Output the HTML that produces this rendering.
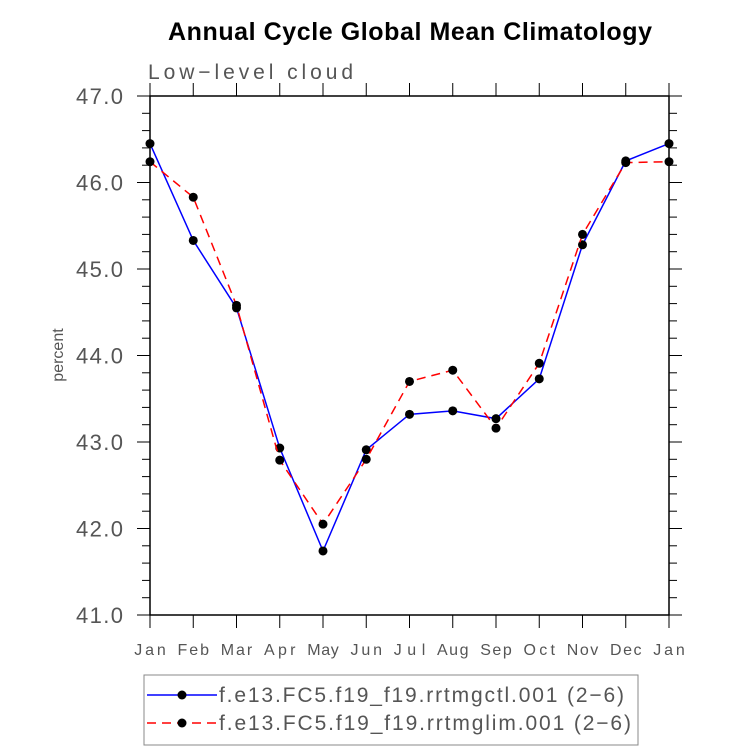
<!DOCTYPE html>
<html><head><meta charset="utf-8"><style>
body{margin:0;background:#fff;}
svg text{font-family:"Liberation Sans",sans-serif;}
</style></head><body>
<svg id="chart" width="733" height="751" xmlns="http://www.w3.org/2000/svg">
<text x="410" y="40" text-anchor="middle" font-size="25" font-weight="bold" textLength="484">Annual Cycle Global Mean Climatology</text>
<text x="148" y="79" font-size="21" fill="#555" textLength="205">Low−level cloud</text>
<text transform="translate(63,355) rotate(-90)" text-anchor="middle" font-size="16" fill="#555">percent</text>
<g id="axes"></g>
<g id="series"></g>
<g>
<rect x="144" y="675" width="494" height="70" fill="none" stroke="#888" stroke-width="1"/>
<line x1="147" y1="695" x2="217" y2="695" stroke="#00f" stroke-width="1.5"/>
<circle cx="182" cy="695" r="4.5" fill="#000"/>
<text x="219" y="702" font-size="21" fill="#555" textLength="405">f.e13.FC5.f19_f19.rrtmgctl.001 (2−6)</text>
<line x1="147" y1="723" x2="217" y2="723" stroke="#f00" stroke-width="1.5" stroke-dasharray="9,6"/>
<circle cx="182" cy="723" r="4.5" fill="#000"/>
<text x="219" y="730" font-size="21" fill="#555" textLength="412">f.e13.FC5.f19_f19.rrtmglim.001 (2−6)</text>
</g>
</svg>
<script>
const months=["Jan","Feb","Mar","Apr","May","Jun","Jul","Aug","Sep","Oct","Nov","Dec","Jan"];
const ctlValues=[46.45,45.33,44.55,42.93,41.74,42.91,43.32,43.36,43.27,43.73,45.28,46.25,46.45];
const limValues=[46.24,45.83,44.58,42.79,42.05,42.80,43.70,43.83,43.16,43.91,45.40,46.23,46.24];
const yTicks=[41,42,43,44,45,46,47];
const NS="http://www.w3.org/2000/svg";
const L=150,R=669,T=96,B=615,ymin=41,ymax=47;
const x=i=>L+(R-L)*i/(months.length-1);
const y=v=>B-(v-ymin)/(ymax-ymin)*(B-T);
function mk(tag,at,parent){const e=document.createElementNS(NS,tag);for(const k in at)e.setAttribute(k,at[k]);parent.appendChild(e);return e;}
const ax=document.getElementById('axes');
const frame=mk('rect',{x:L,y:T,width:R-L,height:B-T,fill:'none',stroke:'#000','stroke-width':1.5},ax);


for(let v=ymin;v<=ymax+1e-9;v+=0.2){
  const major=Math.abs(v-Math.round(v))<1e-6, len=major?13:8, yy=y(v);
  mk('line',{x1:L-len,y1:yy,x2:L,y2:yy,stroke:'#000','stroke-width':1},ax);
  mk('line',{x1:R,y1:yy,x2:R+len,y2:yy,stroke:'#000','stroke-width':1},ax);
}
yTicks.forEach(v=>{
  const t=mk('text',{x:123,y:y(v)+8,'text-anchor':'end','font-size':22,fill:'#555',textLength:47},ax);
  t.textContent=v.toFixed(1);
  
  
});
months.forEach((m,i)=>{
  const xx=x(i);
  mk('line',{x1:xx,y1:B,x2:xx,y2:B+13,stroke:'#000','stroke-width':1},ax);
  mk('line',{x1:xx,y1:T-13,x2:xx,y2:T,stroke:'#000','stroke-width':1},ax);
  const t=mk('text',{x:xx,y:655,'text-anchor':'middle','font-size':16,fill:'#555',textLength:m.length*10.5},ax);
  t.textContent=m;
  
  
});
const sg=document.getElementById('series');
function series(vals,color,dash,name){
  const p=mk('polyline',{points:vals.map((v,i)=>x(i)+','+y(v)).join(' '),fill:'none',stroke:color,'stroke-width':1.5,'stroke-dasharray':dash},sg);
  
  
  vals.forEach((v,i)=>{
    const c=mk('circle',{cx:x(i),cy:y(v),r:4.5,fill:'#000'},sg);
    
    
  });
}
series(ctlValues,'#00f','none','ctl-series');
series(limValues,'#f00','9,6','glim-series');
</script>
</body></html>
